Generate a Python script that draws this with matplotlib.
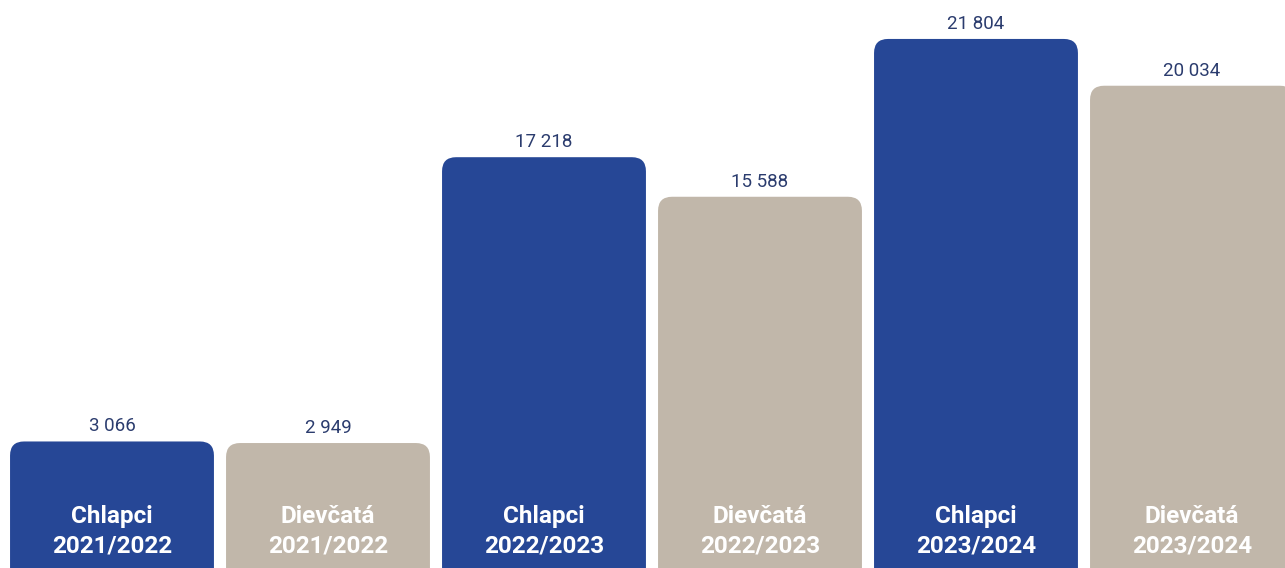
import matplotlib
matplotlib.use("Agg")
import matplotlib.pyplot as plt
import numpy as np
from matplotlib.patches import FancyBboxPatch
from matplotlib.transforms import IdentityTransform

plt.rcParams["font.family"] = ["Roboto", "DejaVu Sans"]

groups = ["Chlapci", "Dievčatá", "Chlapci", "Dievčatá", "Chlapci", "Dievčatá"]
years = ["2021/2022", "2021/2022", "2022/2023", "2022/2023", "2023/2024", "2023/2024"]
values = [3066, 2949, 17218, 15588, 21804, 20034]

blue = "#264796"
beige = "#c1b7aa"
navy = "#2b3c6e"
colors = [blue if g == "Chlapci" else beige for g in groups]

# bar heights in the original grow a bit faster than linear
p = 1.35


def fwd(v):
    v = np.asarray(v, dtype=float)
    return np.sign(v) * np.abs(v) ** p


def inv(u):
    u = np.asarray(u, dtype=float)
    return np.sign(u) * np.abs(u) ** (1 / p)


fig = plt.figure(figsize=(12.85, 5.68), dpi=100)
ax = fig.add_axes([0, 0, 1, 1])
ax.set_yscale("function", functions=(fwd, inv))
ymin, ymax = -7135, 23240
ax.set_xlim(-0.5185, 5.4306)
ax.set_ylim(ymin, ymax)
ax.axis("off")

x = np.arange(len(values))
bars = ax.bar(x, np.array(values) - ymin, bottom=ymin, width=0.944, color=colors)

# swap plain bars for rounded ones (radius in pixels)
fig.canvas.draw()
r = 14
for b in bars:
    bb = b.get_window_extent()
    b.set_visible(False)
    patch = FancyBboxPatch((bb.x0 + r, bb.y0 - 40 + r), bb.width - 2 * r, bb.height + 40 - 2 * r,
                           boxstyle=f"round,pad={r},rounding_size={r}",
                           transform=IdentityTransform(), fc=b.get_facecolor(), ec="none")
    ax.add_patch(patch)

for xi, v, g, yr in zip(x, values, groups, years):
    ax.annotate(f"{v:,}".replace(",", " "), xy=(xi, v), xytext=(0, 10), textcoords="offset pixels",
                ha="center", va="baseline", fontsize=13.5, color=navy)
    ax.annotate(g, xy=(xi, 0), xycoords=("data", "axes fraction"), xytext=(0, 45),
                textcoords="offset pixels", ha="center", va="baseline",
                fontsize=17.5, fontweight="bold", color="white")
    ax.annotate(yr, xy=(xi, 0), xycoords=("data", "axes fraction"), xytext=(0, 16),
                textcoords="offset pixels", ha="center", va="baseline",
                fontsize=17.5, fontweight="bold", color="white")

fig.savefig("out.png", dpi=100)
